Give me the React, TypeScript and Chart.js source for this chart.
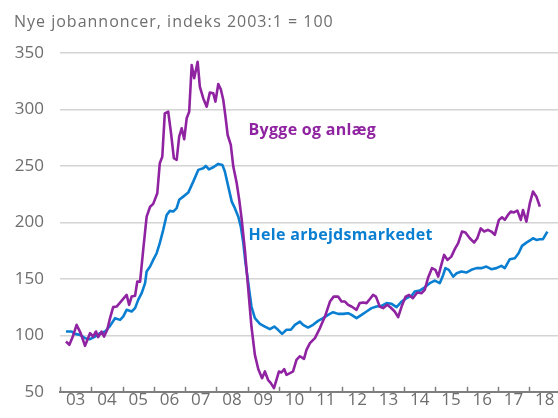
import React, { useEffect, useRef } from "react";
import { Chart, registerables } from "chart.js";

Chart.register(...registerables);

const TITLE = "Nye jobannoncer, indeks 2003:1 = 100";
const LABEL_BYGGE = "Bygge og anlæg";
const LABEL_HELE = "Hele arbejdsmarkedet";

const yTicks = [50, 100, 150, 200, 250, 300, 350];
const yearTicks = [2003, 2004, 2005, 2006, 2007, 2008, 2009, 2010, 2011, 2012, 2013, 2014, 2015, 2016, 2017, 2018];

// Hele arbejdsmarkedet (blue)
const helePeriods = [
  2003.19, 2003.37, 2003.48, 2003.64, 2003.8, 2003.96, 2004.12, 2004.28, 2004.44, 2004.6, 2004.76, 2004.92,
  2005.02, 2005.13, 2005.29, 2005.4, 2005.5, 2005.61, 2005.72, 2005.77, 2005.88, 2005.98, 2006.09, 2006.19,
  2006.3, 2006.41, 2006.51, 2006.62, 2006.73, 2006.81, 2006.94, 2007.1, 2007.26, 2007.42, 2007.58, 2007.66,
  2007.76, 2007.9, 2008.06, 2008.19, 2008.27, 2008.38, 2008.49, 2008.59, 2008.7, 2008.78, 2008.86, 2008.93,
  2009.02, 2009.12, 2009.23, 2009.39, 2009.55, 2009.71, 2009.85, 2009.97, 2010.1, 2010.24, 2010.38, 2010.51,
  2010.67, 2010.77, 2010.93, 2011.09, 2011.25, 2011.41, 2011.57, 2011.73, 2011.89, 2012.05, 2012.21, 2012.32,
  2012.48, 2012.64, 2012.8, 2012.96, 2013.12, 2013.28, 2013.44, 2013.6, 2013.76, 2013.92, 2014.08, 2014.24,
  2014.34, 2014.5, 2014.66, 2014.82, 2014.98, 2015.14, 2015.25, 2015.32, 2015.43, 2015.57, 2015.68, 2015.83,
  2015.99, 2016.15, 2016.31, 2016.47, 2016.63, 2016.79, 2016.95, 2017.11, 2017.22, 2017.38, 2017.54, 2017.66,
  2017.77, 2017.91, 2018.05, 2018.12, 2018.23, 2018.34, 2018.44, 2018.58,
];
const heleValues = [
  103.4, 103.4, 101.3, 100.4, 97.5, 96.6, 98.9, 101.9, 103.4, 108.4, 115.2, 113.7,
  116.6, 122.6, 121.1, 124.1, 131.4, 137.3, 146.2, 156.5, 160.9, 166.8, 172.7, 181.6,
  193.4, 206.6, 210.2, 209.6, 212.6, 220, 222.8, 226.4, 236.1, 246.5, 248, 250,
  247, 248.8, 251.8, 250.9, 245, 231.7, 218.4, 212.6, 205.1, 196.3, 181.6, 163.9,
  146.2, 125.5, 115.2, 110.2, 107.8, 105.5, 107.8, 104.9, 101.3, 104.9, 104.9, 109.3,
  112.2, 109.3, 106.9, 109.3, 112.8, 115.2, 118.1, 120.5, 119, 119, 119.6, 118.1,
  115.2, 118.1, 121.1, 124.1, 125.5, 126.1, 128.5, 127.9, 125, 129.9, 132.9, 135,
  138.8, 139.6, 142.5, 146.2, 148.5, 146.2, 153.5, 159.5, 158, 152, 155, 156.5,
  155.6, 158, 159.5, 159.5, 160.9, 158.6, 159.5, 161.5, 159.5, 167.4, 168.3, 172.7,
  179.2, 182.1, 184.5, 186, 184.5, 185.1, 185.1, 191.9,
];

// Bygge og anlæg (purple)
const byggePeriods = [
  2003.19, 2003.3, 2003.41, 2003.53, 2003.66, 2003.8, 2003.96, 2004.06, 2004.15, 2004.22, 2004.33, 2004.41,
  2004.51, 2004.6, 2004.7, 2004.81, 2004.92, 2005.04, 2005.13, 2005.21, 2005.29, 2005.4, 2005.47, 2005.56,
  2005.66, 2005.77, 2005.88, 2005.98, 2006.11, 2006.19, 2006.27, 2006.35, 2006.46, 2006.55, 2006.64, 2006.73,
  2006.81, 2006.89, 2006.97, 2007.05, 2007.13, 2007.21, 2007.29, 2007.4, 2007.47, 2007.58, 2007.69, 2007.79,
  2007.9, 2007.97, 2008.06, 2008.14, 2008.22, 2008.29, 2008.36, 2008.46, 2008.54, 2008.65, 2008.73, 2008.81,
  2008.91, 2009.02, 2009.12, 2009.23, 2009.34, 2009.46, 2009.55, 2009.65, 2009.74, 2009.84, 2009.92, 2010.0,
  2010.08, 2010.17, 2010.24, 2010.35, 2010.45, 2010.56, 2010.67, 2010.8, 2010.88, 2010.99, 2011.15, 2011.31,
  2011.47, 2011.63, 2011.75, 2011.89, 2012.0, 2012.11, 2012.21, 2012.32, 2012.48, 2012.58, 2012.69, 2012.8,
  2012.9, 2013.01, 2013.1, 2013.22, 2013.33, 2013.46, 2013.57, 2013.7, 2013.81, 2013.92, 2014.05, 2014.16,
  2014.28, 2014.42, 2014.56, 2014.66, 2014.77, 2014.89, 2015.0, 2015.09, 2015.19, 2015.28, 2015.39, 2015.51,
  2015.62, 2015.73, 2015.85, 2015.96, 2016.1, 2016.24, 2016.34, 2016.45, 2016.56, 2016.68, 2016.79, 2016.9,
  2017.03, 2017.13, 2017.22, 2017.32, 2017.41, 2017.51, 2017.62, 2017.73, 2017.8, 2017.91, 2018.02, 2018.12,
  2018.23, 2018.34,
];
const byggeValues = [
  94.5, 91.6, 98.9, 109.3, 101.9, 90.7, 101.9, 98.9, 103.4, 98.4, 103.4, 98.9,
  104.9, 115.2, 125, 125.5, 129, 132.9, 135.8, 127, 134.3, 135, 147.6, 147.6,
  175.7, 205.1, 213.9, 216.4, 225.8, 252.4, 258.2, 296.6, 298, 278.9, 256.8, 255.3,
  275.9, 283.3, 273.6, 292.2, 298, 339.4, 327.6, 342.3, 320.2, 309.8, 302.5, 314.9,
  314.3, 307, 322.6, 317.9, 308.4, 293.6, 277.4, 268.6, 249.4, 234.6, 219.9, 202.2,
  175.7, 140.3, 107.8, 82.7, 70, 62.1, 68, 60.6, 57.7, 53.3, 60.6, 68,
  67.1, 70, 65, 66.5, 68, 78.3, 81.5, 79.2, 87.2, 93.1, 97.5, 106.4,
  116.6, 129.9, 134.3, 134.3, 129.9, 129.9, 127, 125.5, 122.6, 128.5, 129, 128.5,
  132, 135.8, 134.3, 125.5, 124.1, 127, 124.6, 121.1, 116.1, 125.5, 134.3, 135.8,
  132.9, 137.9, 137.3, 140.3, 151.3, 159.5, 158, 152, 162.4, 171.2, 166.8, 169.7,
  176.3, 181.6, 191.9, 191.1, 186, 182.1, 186, 194.7, 191.9, 193.4, 191.9, 188.9,
  202.2, 204.5, 202.2, 206.6, 209.6, 208.8, 210.5, 202.2, 211, 200.7, 217, 227.3,
  222.8, 213.9,
];

const PURPLE = "#8f23a1";
const BLUE = "#0a7fd2";
const TEXT = "#6e6e6e";
const FONT = "'Open Sans', sans-serif";

const decorPlugin = {
  id: "decor",
  afterDraw(chart: any) {
    const ctx = chart.ctx;
    const xs = chart.scales.x;
    const bottom = chart.chartArea.bottom;
    ctx.save();
    // upward tick marks on x axis
    ctx.strokeStyle = "#7f7f7f";
    ctx.lineWidth = 1.5;
    for (const yr of yearTicks) {
      const px = Math.round(xs.getPixelForValue(yr)) + 0.5;
      ctx.beginPath();
      ctx.moveTo(px, bottom);
      ctx.lineTo(px, bottom - 5);
      ctx.stroke();
    }
    // title
    ctx.fillStyle = TEXT;
    ctx.font = `16px ${FONT}`;
    ctx.textBaseline = "alphabetic";
    ctx.textAlign = "left";
    try {
      (ctx as any).letterSpacing = "1px";
    } catch (e) {}
    ctx.fillText(TITLE, 14, 26.5);
    // series labels
    try {
      (ctx as any).letterSpacing = "0.3px";
    } catch (e) {}
    ctx.font = `bold 16px ${FONT}`;
    ctx.fillStyle = PURPLE;
    ctx.fillText(LABEL_BYGGE, 248.5, 135);
    ctx.fillStyle = BLUE;
    ctx.fillText(LABEL_HELE, 248.5, 240);
    ctx.restore();
  },
};

export default function App() {
  const ref = useRef<HTMLCanvasElement>(null);
  useEffect(() => {
    if (!ref.current) return;
    const chart = new Chart(ref.current, {
      type: "line",
      data: {
        datasets: [
          {
            label: LABEL_BYGGE,
            data: byggePeriods.map((x, i) => ({ x, y: byggeValues[i] })),
            borderColor: PURPLE,
            borderWidth: 2.6,
            pointRadius: 0,
            tension: 0,
            borderJoinStyle: "round",
          },
          {
            label: LABEL_HELE,
            data: helePeriods.map((x, i) => ({ x, y: heleValues[i] })),
            borderColor: BLUE,
            borderWidth: 2.6,
            pointRadius: 0,
            tension: 0,
            borderJoinStyle: "round",
          },
        ],
      },
      options: {
        responsive: false,
        animation: false,
        layout: { padding: { top: 53, left: 0, right: 0, bottom: 0 } },
        plugins: { legend: { display: false }, tooltip: { enabled: false } },
        scales: {
          x: {
            type: "linear",
            min: 2003,
            max: 2018.92,
            grid: { display: true, drawOnChartArea: false, drawTicks: false },
            border: { display: true, color: "#7f7f7f", width: 2 },
            afterFit: (s: any) => {
              s.height = 26;
            },
            afterBuildTicks: (s: any) => {
              s.ticks = yearTicks.map((v) => ({ value: v }));
            },
            ticks: {
              autoSkip: false,
              maxRotation: 0,
              includeBounds: false,
              labelOffset: 15.6,
              padding: -2,
              color: TEXT,
              font: { family: FONT, size: 17 },
              callback: (v: any) => String(Number(v) % 100).padStart(2, "0"),
            },
          },
          y: {
            min: 50,
            max: 350,
            grid: { color: "#d4d4d4", lineWidth: 1.5, drawTicks: false },
            border: { display: false },
            afterFit: (s: any) => {
              s.width = 60;
            },
            afterBuildTicks: (s: any) => {
              s.ticks = yTicks.map((v) => ({ value: v }));
            },
            ticks: {
              padding: 16,
              color: TEXT,
              font: { family: FONT, size: 17 },
            },
          },
        },
      },
      plugins: [decorPlugin],
    });
    return () => chart.destroy();
  }, []);
  return (
    <div style={{ position: "fixed", left: 0, top: 0, width: 558, height: 418, background: "#fff" }}>
      <canvas ref={ref} width={558} height={418} style={{ display: "block" }} />
    </div>
  );
}
